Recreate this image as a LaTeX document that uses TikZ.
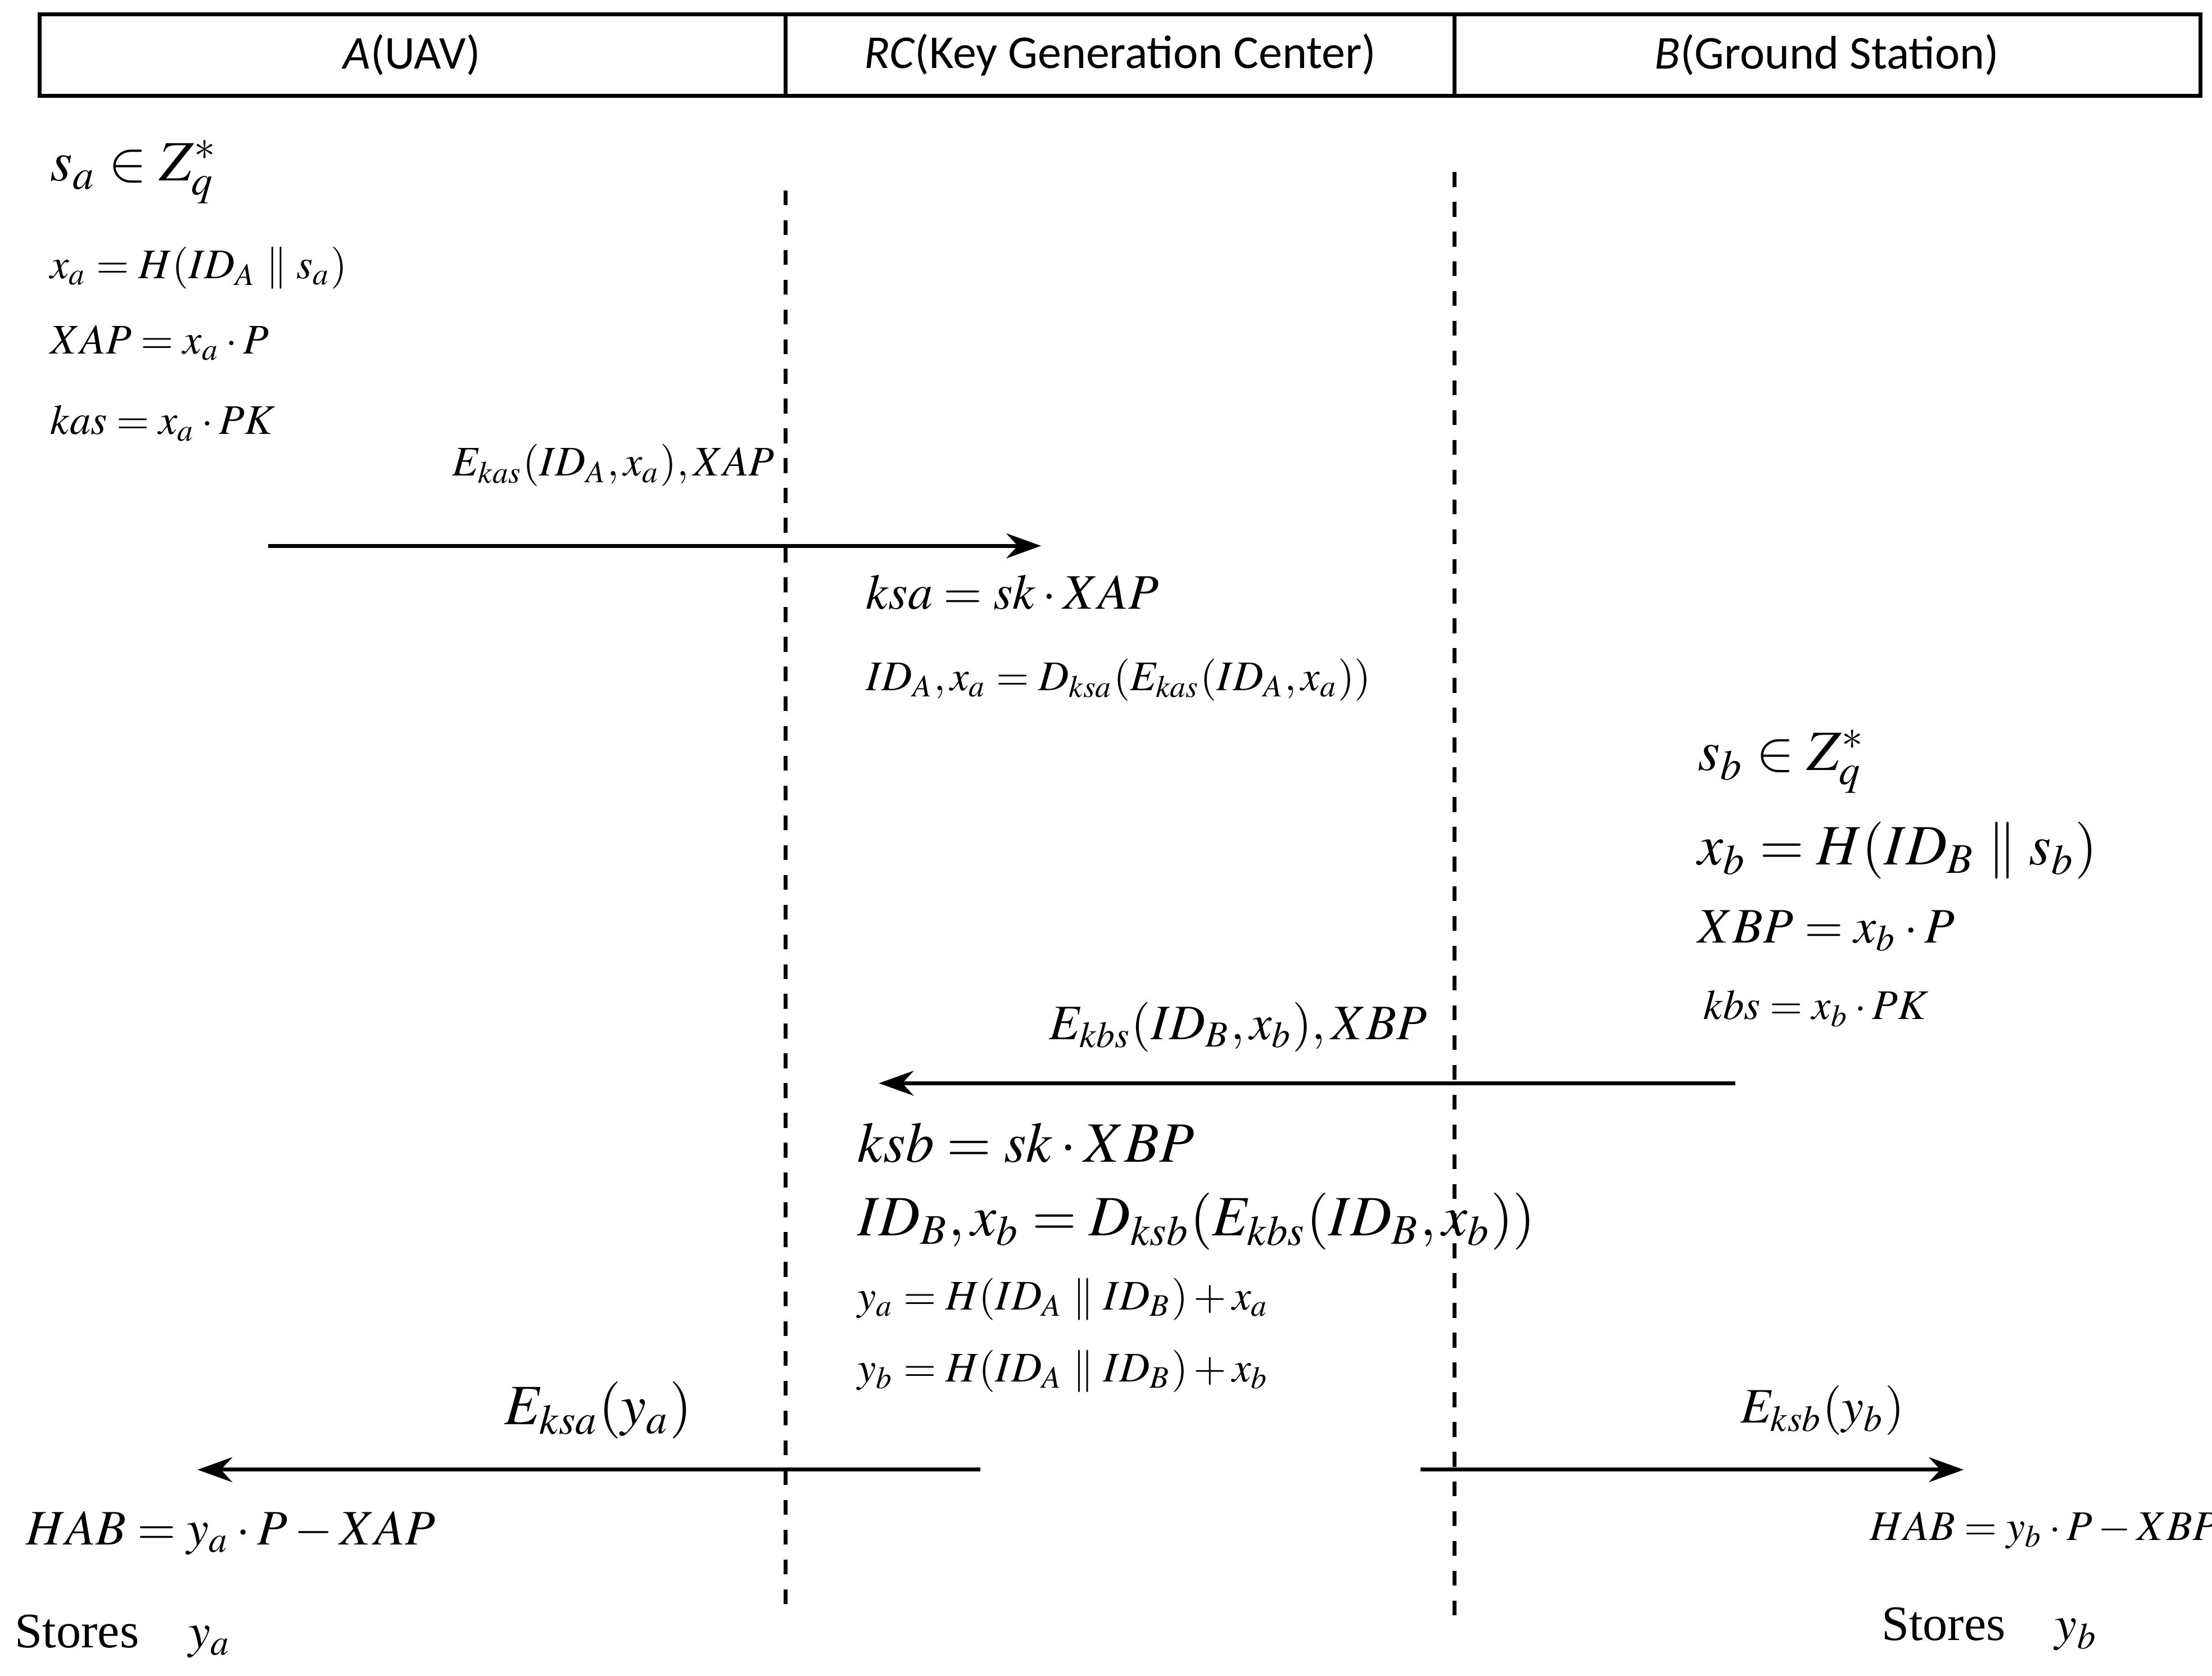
\documentclass[tikz,border=0pt]{standalone}
\usepackage{mathptmx}
\usepackage{fontspec}
\setmainfont{Liberation Serif}
\newfontfamily\hdr{Carlito}
\usetikzlibrary{arrows.meta}
\begin{document}
\begin{tikzpicture}[x=0.01cm,y=-0.01cm,
  hd/.style={font=\hdr\fontsize{9.5}{11}\selectfont},
  sm/.style={anchor=west,inner sep=0pt,font=\fontsize{8.5}{10}\selectfont},
  md/.style={anchor=west,inner sep=0pt,font=\fontsize{10}{12}\selectfont},
  lg/.style={anchor=west,inner sep=0pt,font=\fontsize{11.5}{13}\selectfont},
  msg/.style={thick,-{Stealth[length=7pt,width=5pt]}},
  life/.style={dashed,thick}]
\useasboundingbox (0,0) rectangle (1568,1188);
%% header
\draw[thick] (28,10) rectangle (1560,68);
\draw[thick] (557,10) -- (557,68);
\draw[thick] (1031,10) -- (1031,68);
\node[hd] (hA) at (292,39) {\textit{A}(UAV)};
\node[hd] (hRC) at (794,39) {\textit{RC}(Key Generation Center)};
\node[hd] (hB) at (1295,39) {\textit{B}(Ground Station)};
%% lifelines
\coordinate (rcT) at (557,135);
\coordinate (rcB) at (557,1145);
\coordinate (bT) at (1031,122);
\coordinate (bB) at (1031,1152);
\draw[life] (rcT) -- (rcB);
\draw[life] (bT) -- (bB);
%% A side
\node[lg] (sa) at (35,122) {$s_a\in Z_q^{*}$};
\node[sm] (xa) at (35,190) {$x_a=H(ID_A\parallel s_a)$};
\node[sm] (XAP) at (35,243) {$XAP=x_a\cdot P$};
\node[sm] (kas) at (35,300) {$kas=x_a\cdot PK$};
\node[sm] (m1) at (320,330) {$E_{kas}(ID_A,x_a),XAP$};
\coordinate (m1s) at (190,387);
\coordinate (m1e) at (738,387);
\draw[msg] (m1s) -- (m1e);
%% RC side
\node[md] (ksa) at (613,420) {$ksa=sk\cdot XAP$};
\node[sm] (dA) at (613,482) {$ID_A,x_a=D_{ksa}(E_{kas}(ID_A,x_a))$};
%% B side
\node[lg] (sb) at (1203,540) {$s_b\in Z_q^{*}$};
\node[lg] (xb) at (1203,603) {$x_b=H(ID_B\parallel s_b)$};
\node[md] (XBP) at (1203,660) {$XBP=x_b\cdot P$};
\node[sm] (kbs) at (1207,715) {$kbs=x_b\cdot PK$};
\node[md] (m2) at (743,728) {$E_{kbs}(ID_B,x_b),XBP$};
\coordinate (m2s) at (1230,768);
\coordinate (m2e) at (623,768);
\draw[msg] (m2s) -- (m2e);
%% RC again
\node[lg] (ksb) at (607,810) {$ksb=sk\cdot XBP$};
\node[lg] (dB) at (607,866) {$ID_B,x_b=D_{ksb}(E_{kbs}(ID_B,x_b))$};
\node[sm] (ya) at (607,921) {$y_a=H(ID_A\parallel ID_B)+x_a$};
\node[sm] (yb) at (607,972) {$y_b=H(ID_A\parallel ID_B)+x_b$};
%% replies
\node[lg] (m3) at (357,1000) {$E_{ksa}(y_a)$};
\coordinate (m3s) at (695,1042);
\coordinate (m3e) at (140,1042);
\draw[msg] (m3s) -- (m3e);
\node[md] (m4) at (1233,1000) {$E_{ksb}(y_b)$};
\coordinate (m4s) at (1007,1042);
\coordinate (m4e) at (1392,1042);
\draw[msg] (m4s) -- (m4e);
%% results
\node[md] (habA) at (18,1087) {$HAB=y_a\cdot P-XAP$};
\node[sm] (habB) at (1325,1085) {$HAB=y_b\cdot P-XBP$};
\node[md] (stA) at (10,1160) {Stores\quad $y_a$};
\node[md] (stB) at (1333,1155) {Stores\quad $y_b$};
\end{tikzpicture}
\end{document}
